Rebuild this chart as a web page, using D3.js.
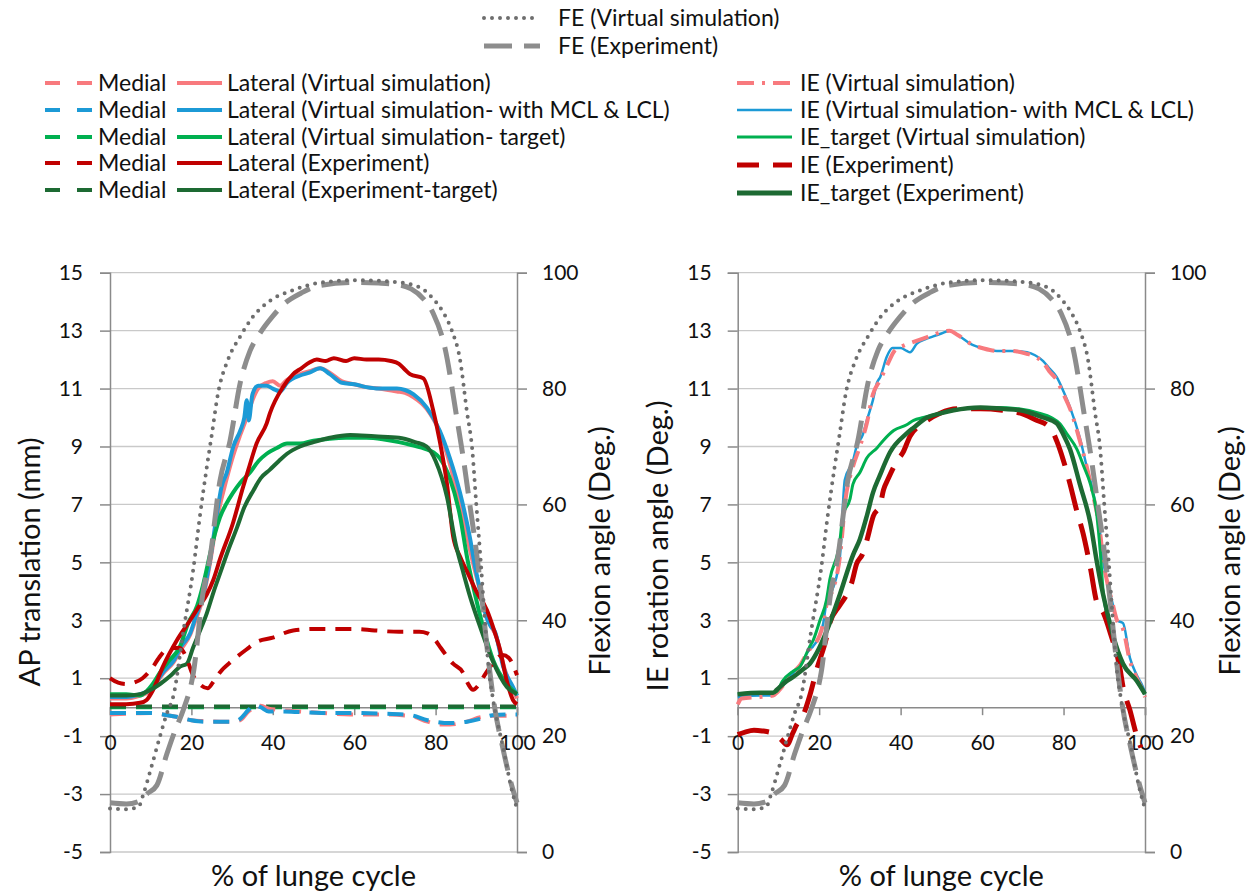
<!DOCTYPE html>
<html>
<head>
<meta charset="utf-8">
<script src="https://cdn.jsdelivr.net/npm/d3@7"></script>
<style>
  body { margin: 0; background: #fff; }
  text { font-family: Lato, "Open Sans", sans-serif; fill: #111; }
</style>
</head>
<body>
<div id="chart"></div>
<script>
// Canvas size
const w = 1254;
const h = 894;

// ---- data: [% of lunge cycle, value] ----
// Flexion angle (deg), secondary axis, same in both panels
const feVirtual = [[0,7.5],[4,7.4],[7,7.8],[8.2,10],[10.3,15],[12.3,20],[14,24],[15.6,27],[18,38],[20.5,49],[22,57.5],[23.8,66.5],[25,72],[26.5,79],[29,85],[32,89],[35,92.3],[39,95],[45,97],[51,98.2],[60,98.7],[70,98.4],[76,97.5],[79.4,95.5],[82,93],[84,90],[86,85],[87.7,76],[89,69.5],[90,60],[91,51],[92,41],[93,32],[94.2,26],[96.6,18],[98.8,10.5],[100,7.5]];
const feExperiment = [[0,8.5],[4,8.3],[7,8.7],[9,10],[11.5,11.5],[14,17],[16,21],[18,24.5],[20.5,31],[22.9,45],[24.5,50.5],[27,64],[29.5,71],[32,81],[34.4,86.5],[36.8,89.5],[40,92.5],[42.6,94.5],[47,96.5],[51,97.7],[60,98.3],[66,98.2],[70,98],[74,97.2],[77,95.5],[79.4,93],[82.3,87],[85.2,75],[86.8,68],[88.5,59.5],[90,52],[91.5,43],[93,33],[94.5,25],[96.5,18],[98.5,12],[100,8.5]];

// AP translation (mm), left panel
const lateralVirtual = [[0,0.3],[4,0.3],[7.4,0.4],[9.8,0.55],[11.5,0.85],[13,1.15],[15.6,1.55],[17.5,2.0],[19.7,2.5],[21,3.0],[22.9,3.8],[24.6,5.0],[26.3,6.5],[28.7,7.9],[30.3,8.7],[32,9.4],[33.6,10.0],[35,10.6],[36.4,11.0],[38.5,11.2],[40,11.25],[41.8,11.1],[43.5,11.3],[46.7,11.5],[49,11.6],[51.6,11.7],[54,11.55],[57,11.25],[60,11.15],[63,11.05],[66,11.0],[70.5,10.9],[72.5,10.85],[74.6,10.7],[77.8,10.3],[81,9.5],[83.5,8.4],[86,7.0],[88.5,5.4],[89.5,4.8],[91,4.0],[93,3.0],[95,2.4],[97,1.3],[99,0.6],[100,0.3]];
const lateralMclLcl = [[0,0.35],[4,0.35],[7.4,0.45],[9.8,0.6],[11.5,0.9],[13,1.2],[15.6,1.6],[17.5,2.1],[19.7,2.55],[21,3.1],[22.9,3.9],[24.6,5.1],[26.3,6.7],[27.4,7.6],[28.7,8.1],[30.3,9.0],[32,9.55],[33,10.0],[33.6,10.6],[34.1,9.9],[35,10.8],[36.4,11.1],[38.5,11.1],[40,11.0],[41.8,10.9],[43.5,11.2],[46.7,11.45],[49,11.55],[51.6,11.7],[54,11.5],[57,11.2],[60,11.15],[63,11.05],[66,11.0],[70.5,11.0],[72.5,10.95],[74.6,10.8],[77.8,10.35],[81,9.55],[83.5,8.6],[86,7.4],[88.5,5.8],[89.5,5.0],[91,4.0],[92.5,3.1],[93.5,2.8],[94.6,2.6],[96.6,1.4],[99,0.7],[100,0.4]];
const lateralVirtualTarget = [[0,0.45],[4,0.45],[7.4,0.4],[9,0.55],[10.5,0.8],[12.3,1.2],[14.5,1.6],[17.2,2.1],[19.2,2.9],[21.4,3.5],[23,4.3],[24.6,5.3],[25.8,6.0],[27,6.55],[28.5,7.0],[30.2,7.4],[32,7.75],[34.4,8.1],[36.5,8.5],[38.5,8.75],[41,8.95],[43.5,9.1],[46.7,9.1],[50,9.2],[54,9.27],[58,9.3],[63,9.3],[67,9.25],[71,9.15],[74,9.05],[77.8,8.9],[79.5,8.8],[81,8.6],[83.5,7.9],[86,6.6],[87.7,5.2],[89.5,4.0],[91.7,2.75],[94.2,1.6],[97.5,0.8],[100,0.45]];
const lateralExperiment = [[0,0.1],[4,0.1],[7.4,0.15],[9,0.25],[10.6,0.6],[13,1.4],[16.4,2.3],[19.7,3.0],[21.5,3.4],[23.8,3.9],[25.4,4.4],[27,5.1],[30.2,6.35],[32.7,7.6],[34,8.2],[36,9.1],[38.5,9.8],[39.3,10.15],[42.5,11.05],[45,11.5],[47,11.7],[49,11.9],[50.8,12.0],[53,11.95],[55,12.05],[58,11.95],[60,12.05],[63,12.0],[66,12.0],[69,11.95],[71,11.85],[72.5,11.65],[73.7,11.5],[77,11.35],[79.4,10.25],[81,9.2],[82.8,7.7],[84.3,5.9],[86,5.2],[88,4.6],[90,4.0],[92.6,3.35],[94.5,2.6],[95.8,2.0],[97.5,0.9],[99,0.25],[100,0.1]];
const lateralExperimentTarget = [[0,0.4],[4,0.4],[7.4,0.45],[10,0.6],[12.3,0.8],[15,1.1],[17.2,1.4],[18.9,1.5],[20.4,2.05],[22,2.6],[23.8,3.25],[25.5,4.0],[27,4.6],[29,5.4],[31.2,6.2],[33,6.9],[35.3,7.5],[37,7.9],[39.3,8.2],[41.5,8.5],[43.5,8.75],[46.7,9.0],[50,9.15],[54,9.3],[59,9.4],[65,9.35],[71,9.3],[75,9.15],[77.8,9.0],[80,8.5],[82.8,7.25],[85,5.6],[86.7,4.7],[88.5,3.8],[91,2.75],[94,1.6],[97.5,0.7],[100,0.45]];

const medialVirtual = [[0,-0.25],[5,-0.22],[10,-0.2],[13,-0.25],[17,-0.35],[20,-0.45],[23,-0.48],[27,-0.5],[30,-0.5],[32,-0.45],[34,-0.15],[35.5,0.0],[37,0.05],[39,-0.05],[42,-0.1],[46.7,-0.15],[52,-0.2],[59,-0.25],[66,-0.25],[73.7,-0.3],[78,-0.5],[81,-0.6],[83.5,-0.6],[87.7,-0.5],[91,-0.35],[94,-0.3],[99,-0.3],[100,-0.3]];
const medialMclLcl = [[0,-0.2],[5,-0.2],[10,-0.2],[13,-0.25],[17,-0.35],[20,-0.45],[23,-0.5],[27,-0.5],[30,-0.5],[32,-0.4],[34,-0.1],[35.5,0.07],[37,0.0],[39,-0.15],[42,-0.15],[46.7,-0.17],[52,-0.2],[59,-0.2],[66,-0.22],[73.7,-0.27],[78,-0.45],[83.5,-0.55],[87.7,-0.5],[91,-0.4],[94,-0.28],[99,-0.25],[100,-0.25]];
const medialVirtualTarget = [[0,0.0],[50,0.0],[100,0.0]];
const medialExperiment = [[0,1.0],[2,0.85],[4,0.8],[6,0.85],[8,1.0],[10.6,1.4],[12,1.7],[14,2.0],[17,2.05],[18.5,1.8],[20.4,1.1],[22,0.8],[24,0.65],[25.5,0.9],[27,1.2],[30,1.6],[33.6,2.0],[36,2.25],[40,2.4],[45,2.65],[50,2.7],[55,2.7],[60,2.7],[65,2.65],[71,2.6],[76,2.6],[78,2.55],[80,2.3],[81,2.1],[84.3,1.5],[86.7,1.2],[88,0.8],[89.2,0.6],[90.5,0.75],[92,1.1],[94,1.5],[96.5,1.8],[98,1.7],[100,1.1]];
const medialExperimentTarget = [[0,0.02],[50,0.02],[100,0.02]];

// IE rotation angle (deg), right panel
const ieVirtual = [[0,0.1],[1,0.3],[5.5,0.35],[8.7,0.4],[9.6,0.5],[12,0.9],[13.7,1.2],[15.3,1.45],[17.7,2.0],[18.5,2.1],[21,2.9],[21.9,3.6],[23.5,4.1],[25.1,5.2],[26.5,7.2],[28.3,8.3],[30,9.0],[31.7,9.8],[33.2,10.8],[35,11.3],[37,11.9],[38.5,12.3],[41,12.5],[43,12.6],[46,12.75],[50,12.95],[52,13.0],[54,12.85],[57.8,12.5],[60,12.4],[63.6,12.3],[67,12.3],[71,12.2],[73,12.1],[75,11.9],[76.5,11.6],[78.3,11.3],[80,10.8],[81.6,10.3],[84,9.2],[85.7,8.3],[87.3,7.3],[89,6.0],[89.8,5.0],[90.6,4.4],[92,3.6],[93.1,3.0],[94.6,2.7],[96.3,1.6],[98,1.0],[99.5,0.55],[100,0.35]];
const ieMclLcl = [[0,0.35],[5.5,0.4],[8.7,0.4],[9.6,0.5],[12,0.9],[13.7,1.2],[15.3,1.45],[17.7,2.0],[18.5,2.1],[21,2.9],[21.9,3.7],[23.5,4.15],[25.1,5.2],[26.3,7.85],[28.3,8.5],[29.2,9.0],[30.7,9.4],[31.7,9.9],[33.2,10.6],[34.2,11.2],[35,11.4],[36.6,12.1],[38,12.4],[40,12.4],[41.5,12.3],[42.3,12.25],[44,12.55],[46,12.7],[48,12.8],[50,12.9],[52,13.0],[54,12.85],[57.8,12.5],[60,12.4],[63.6,12.3],[67,12.3],[71,12.25],[73,12.15],[75,11.95],[76.5,11.7],[78.3,11.4],[80,10.9],[81.6,10.35],[84,9.3],[85.7,8.3],[87.3,7.4],[89,6.0],[89.8,5.0],[90.6,4.4],[92,3.6],[93.1,3.0],[94.6,2.9],[96.3,1.7],[98,1.1],[99.5,0.7],[100,0.5]];
const ieTargetVirtual = [[0,0.45],[5.5,0.5],[8.7,0.5],[9.6,0.55],[11,0.9],[13.7,1.25],[15.3,1.4],[17.7,2.1],[18.5,2.3],[20.2,3.0],[21.8,3.7],[22.6,4.4],[25.1,5.75],[25.8,6.6],[27.6,7.2],[28.3,7.7],[30,8.1],[31.7,8.6],[34.2,8.95],[35.7,9.2],[38.3,9.55],[41.5,9.75],[43.2,9.9],[45.6,10.0],[49.7,10.15],[55.4,10.3],[60,10.35],[63.6,10.35],[69,10.3],[74,10.15],[77,10.0],[79,9.8],[81,9.4],[83.3,8.9],[85,8.3],[86.6,7.7],[88.2,6.6],[89,5.4],[89.8,3.9],[92.3,2.4],[94.6,1.5],[98,0.9],[100,0.45]];
const ieExperiment = [[0,-0.95],[2,-0.85],[4,-0.8],[6,-0.82],[8.7,-0.9],[10.5,-1.1],[12.1,-1.3],[13.5,-0.9],[14.5,-0.6],[16,-0.3],[17.7,0.4],[19.4,1.3],[21.8,2.4],[22.6,2.9],[25,3.5],[26.8,3.9],[28,4.3],[29.2,4.95],[30.7,5.3],[31.7,5.75],[33.3,6.6],[35,7.0],[35.8,7.5],[37,7.9],[39.1,8.5],[40.6,8.8],[42.3,9.35],[45.6,9.8],[49.7,10.15],[53.8,10.3],[59.6,10.3],[65,10.25],[69.4,10.15],[73.5,9.9],[75.9,9.75],[77,9.6],[78.3,9.2],[80,8.5],[81.6,7.7],[83.2,6.8],[84.8,6.0],[86.6,4.8],[88.2,3.6],[89.8,3.25],[91.5,2.55],[93.9,1.3],[94.6,0.7],[96.3,-0.1],[98,-1.0],[99,-1.4]];
const ieTargetExperiment = [[0,0.45],[5.5,0.5],[8.7,0.5],[9.6,0.6],[12,0.9],[13.7,1.05],[16,1.3],[17.7,1.5],[19.5,1.9],[21.9,2.65],[25.1,3.9],[28.3,5.25],[30,5.8],[31.7,6.6],[33.2,7.4],[34.9,8.0],[37.4,8.8],[41.5,9.45],[43.2,9.65],[46.5,10.0],[50,10.15],[53,10.25],[59.6,10.35],[65,10.3],[69.4,10.25],[75,10.0],[78.3,9.8],[80,9.4],[81.6,8.9],[84,7.7],[86.6,6.35],[88.2,5.0],[89.4,4.1],[90.6,3.35],[92.3,2.4],[94.6,1.5],[98,0.9],[100,0.45]];

// tick labels
const xTicks = [0, 20, 40, 60, 80, 100];
const yTicks = [-5, -3, -1, 1, 3, 5, 7, 9, 11, 13, 15];
const flexTicks = [0, 20, 40, 60, 80, 100];

// legend texts
const feLabels = ["FE (Virtual simulation)", "FE (Experiment)"];
const lateralLabels = ["Lateral (Virtual simulation)", "Lateral (Virtual simulation- with MCL & LCL)", "Lateral (Virtual simulation- target)", "Lateral (Experiment)", "Lateral (Experiment-target)"];
const ieLabels = ["IE (Virtual simulation)", "IE (Virtual simulation- with MCL & LCL)", "IE_target (Virtual simulation)", "IE (Experiment)", "IE_target (Experiment)"];

// colours
const salmon = "#f87a7e", blue = "#1c9ad6", green = "#00b050", red = "#c00000", darkGreen = "#1d6a33";
const grayDot = "#6e6e6e", grayDash = "#8d8d8d";
const rowColors = [salmon, blue, green, red, darkGreen];

// line styles
const dotted = { color: grayDot, width: 4, dash: "0,8", cap: "round" };
const feDash = { color: grayDash, width: 5, dash: "28,12", cap: "butt" };
const medialDash = "16,10";

const svg = d3.select("#chart").append("svg")
    .attr("width", w)
    .attr("height", h);

const yTop = 272.7, yBottom = 852;
const tickFont = 21, titleFont = 29, legendFont = 23;

// Draw one panel
function drawPanel(x0, x1, series, yTitle, yTitleX, yTitleMid, flexTitleX, leftLabelPad) {
    const x = d3.scaleLinear().domain([0, 100]).range([x0, x1]);
    const y = d3.scaleLinear().domain([-5, 15]).range([yBottom, yTop]);
    const yF = d3.scaleLinear().domain([0, 100]).range([yBottom, yTop]);

    const g = svg.append("g");

    // gridlines
    g.append("g").selectAll("line")
        .data(yTicks)
        .enter().append("line")
        .attr("x1", x0).attr("x2", x1)
        .attr("y1", d => y(d)).attr("y2", d => y(d))
        .attr("stroke", "#c9c9c9")
        .attr("stroke-width", 1.3);

    const plain = d => String(d); // hyphen minus like the original

    // left axis
    const la = g.append("g")
        .attr("transform", `translate(${x0},0)`)
        .call(d3.axisLeft(y).tickValues(yTicks).tickFormat(plain).tickSize(10).tickPadding(leftLabelPad));
    // right axis (flexion)
    const ra = g.append("g")
        .attr("transform", `translate(${x1},0)`)
        .call(d3.axisRight(yF).tickValues(flexTicks).tickFormat(plain).tickSize(10).tickPadding(15));
    // x axis at y = 0
    const xa = g.append("g")
        .attr("transform", `translate(0,${y(0)})`)
        .call(d3.axisBottom(x).tickValues(xTicks).tickFormat(plain).tickSize(8));
    xa.selectAll("text").attr("y", 36).attr("dy", "0.34em");

    [la, ra, xa].forEach(a => {
        a.selectAll("path").attr("stroke", "#8a8a8a").attr("stroke-width", 1.5);
        a.selectAll("line").attr("stroke", "#8a8a8a").attr("stroke-width", 1.5);
        a.selectAll("text").attr("font-size", tickFont).attr("font-family", "Lato, sans-serif").attr("fill", "#111");
    });

    // series
    series.forEach(s => {
        const yS = s.flex ? yF : y;
        const line = d3.line()
            .x(d => x(d[0]))
            .y(d => yS(d[1]))
            .curve(d3.curveMonotoneX);
        g.append("path")
            .datum(s.data)
            .attr("d", line)
            .attr("fill", "none")
            .attr("stroke", s.color)
            .attr("stroke-width", s.width)
            .attr("stroke-dasharray", s.dash || null)
            .attr("stroke-linecap", s.cap || "butt")
            .attr("stroke-linejoin", "round");
    });

    // axis titles
    g.append("text")
        .attr("transform", `translate(${yTitleX},${yTitleMid}) rotate(-90)`)
        .attr("text-anchor", "middle")
        .attr("font-size", titleFont)
        .text(yTitle);
    g.append("text")
        .attr("transform", `translate(${flexTitleX},551) rotate(-90)`)
        .attr("text-anchor", "middle")
        .attr("font-size", titleFont)
        .text("Flexion angle (Deg.)");
    g.append("text")
        .attr("x", (x0 + x1) / 2)
        .attr("y", 886)
        .attr("text-anchor", "middle")
        .attr("font-size", titleFont)
        .text("% of lunge cycle");
}

const feSeries = [
    { data: feExperiment, flex: true, ...feDash },
    { data: feVirtual, flex: true, ...dotted }
];

drawPanel(110, 517, [
    { data: medialVirtualTarget, color: green, width: 4, dash: medialDash },
    { data: medialExperimentTarget, color: darkGreen, width: 4, dash: medialDash },
    { data: medialVirtual, color: salmon, width: 4, dash: medialDash },
    { data: medialMclLcl, color: blue, width: 4, dash: medialDash },
    { data: lateralVirtual, color: salmon, width: 4 },
    { data: lateralMclLcl, color: blue, width: 4 },
    { data: lateralVirtualTarget, color: green, width: 4 },
    { data: lateralExperiment, color: red, width: 4 },
    { data: lateralExperimentTarget, color: darkGreen, width: 4 },
    { data: medialExperiment, color: red, width: 4, dash: medialDash },
    ...feSeries
], "AP translation (mm)", 40, 562, 610, 17);

drawPanel(737.7, 1145, [
    { data: ieMclLcl, color: blue, width: 2.5 },
    { data: ieVirtual, color: salmon, width: 4, dash: "17,8,3,8" },
    { data: ieTargetVirtual, color: green, width: 3 },
    { data: ieExperiment, color: red, width: 5, dash: "32,14" },
    { data: ieTargetExperiment, color: darkGreen, width: 4.5 },
    ...feSeries
], "IE rotation angle (Deg.)", 668, 546, 1240, 16);

// ---- legends ----
const legend = svg.append("g").attr("font-size", legendFont);

// FE legend at top
const feStyles = [dotted, feDash];
feLabels.forEach((t, i) => {
    const yy = 18 + i * 28;
    const st = feStyles[i];
    legend.append("line")
        .attr("x1", 484).attr("x2", 540).attr("y1", yy).attr("y2", yy)
        .attr("stroke", st.color).attr("stroke-width", st.width)
        .attr("stroke-dasharray", st.dash).attr("stroke-linecap", st.cap);
    legend.append("text").attr("x", 558).attr("y", yy).attr("dy", "0.35em").text(t);
});

// Medial / Lateral legend
const rowY = [83, 110, 137, 163, 190];
lateralLabels.forEach((t, i) => {
    const yy = rowY[i];
    legend.append("line")
        .attr("x1", 45).attr("x2", 92).attr("y1", yy).attr("y2", yy)
        .attr("stroke", rowColors[i]).attr("stroke-width", 4)
        .attr("stroke-dasharray", "15,17");
    legend.append("text").attr("x", 98).attr("y", yy).attr("dy", "0.35em").text("Medial");
    legend.append("line")
        .attr("x1", 177).attr("x2", 222).attr("y1", yy).attr("y2", yy)
        .attr("stroke", rowColors[i]).attr("stroke-width", 4);
    legend.append("text").attr("x", 227).attr("y", yy).attr("dy", "0.35em").text(t);
});

// IE legend
const ieRowY = [83, 110, 137, 165, 193];
const ieStyles = [
    { color: salmon, width: 4, dash: "17,8,3,8" },
    { color: blue, width: 2.5 },
    { color: green, width: 3 },
    { color: red, width: 5, dash: "22,14" },
    { color: darkGreen, width: 5 }
];
ieLabels.forEach((t, i) => {
    const yy = ieRowY[i];
    const st = ieStyles[i];
    legend.append("line")
        .attr("x1", 737).attr("x2", 792).attr("y1", yy).attr("y2", yy)
        .attr("stroke", st.color).attr("stroke-width", st.width)
        .attr("stroke-dasharray", st.dash || null);
    legend.append("text").attr("x", 800).attr("y", yy).attr("dy", "0.35em").text(t);
});
</script>
</body>
</html>
